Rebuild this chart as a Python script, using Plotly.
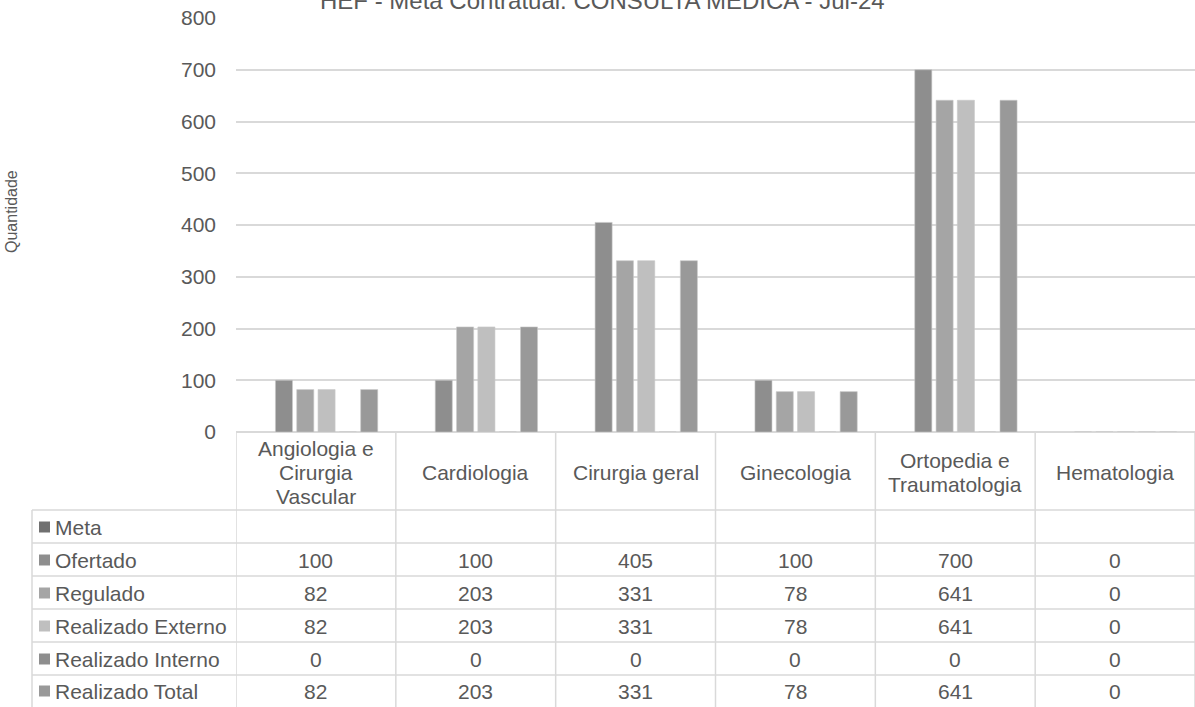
import plotly.graph_objects as go

especialidades = ["Angiologia e<br>Cirurgia<br>Vascular", "Cardiologia", "Cirurgia geral",
                  "Ginecologia", "Ortopedia e<br>Traumatologia", "Hematologia"]
series = ["Meta", "Ofertado", "Regulado", "Realizado Externo", "Realizado Interno", "Realizado Total"]
meta = [None, None, None, None, None, None]
ofertado = [100, 100, 405, 100, 700, 0]
regulado = [82, 203, 331, 78, 641, 0]
realizado_externo = [82, 203, 331, 78, 641, 0]
realizado_interno = [0, 0, 0, 0, 0, 0]
realizado_total = [82, 203, 331, 78, 641, 0]
cores = ["#707070", "#8e8e8e", "#a5a5a5", "#bfbfbf", "#8e8e8e", "#999999"]

valores = [meta, ofertado, regulado, realizado_externo, realizado_interno, realizado_total]
TXT = "#595959"
GRID = "#d9d9d9"
FONT = "Liberation Sans, Arial, sans-serif"
FS = 21

W, H = 1195, 707
ML, MR, MT, MB = 236, 0, 18, 275
plot_h = H - MT - MB
plot_w = W - ML - MR


def py(pix):  # pixel y -> paper
    return (H - MB - pix) / plot_h


def px(pix):  # pixel x -> paper
    return (pix - ML) / plot_w


xs = list(range(len(especialidades)))

fig = go.Figure()
for nome, vals, cor in zip(series, valores, cores):
    fig.add_trace(go.Bar(
        x=xs, y=vals, name=nome,
        marker=dict(color=cor, line=dict(color="#c8c8c8", width=0.6)),
        showlegend=False,
    ))

shapes = []
annotations = []

# grade da tabela
row_edges = [510, 543, 576, 609, 642, 675]
for y in row_edges:
    shapes.append(dict(type="line", xref="paper", yref="paper",
                       x0=px(32), x1=1, y0=py(y), y1=py(y),
                       line=dict(color=GRID, width=1.5)))
shapes.append(dict(type="line", xref="paper", yref="paper",
                   x0=px(32), x1=px(32), y0=py(510), y1=py(710),
                   line=dict(color=GRID, width=1.5)))
for i in range(len(especialidades) + 1):
    shapes.append(dict(type="line", xref="x", yref="paper",
                       x0=i - 0.5, x1=i - 0.5, y0=py(432), y1=py(710),
                       line=dict(color=GRID, width=1.5)))

# cabeçalho (uma anotação por linha de texto, espaçamento como no Excel)
LINE = 24
for i, esp in enumerate(especialidades):
    partes = esp.split("<br>")
    n = len(partes)
    for j, parte in enumerate(partes):
        annotations.append(dict(xref="x", yref="paper", x=i,
                                y=py(472 + (j - (n - 1) / 2) * LINE),
                                yanchor="middle", xanchor="center", text=parte,
                                showarrow=False, font=dict(size=FS, color=TXT, family=FONT)))

# linhas: marcador, nome e valores
centers = [527, 560, 593, 626, 659, 691]
for nome, vals, cor, yc in zip(series, valores, cores, centers):
    shapes.append(dict(type="rect", xref="paper", yref="paper",
                       x0=px(39), x1=px(50), y0=py(yc - 5.5), y1=py(yc + 5.5),
                       fillcolor=cor, line=dict(width=0)))
    annotations.append(dict(xref="paper", yref="paper", x=px(53), y=py(yc),
                            xanchor="left", yanchor="middle", text=nome,
                            showarrow=False, font=dict(size=FS, color=TXT, family=FONT)))
    for i, v in enumerate(vals):
        if v is None:
            continue
        annotations.append(dict(xref="x", yref="paper", x=i, y=py(yc), text=str(v),
                                xanchor="center", yanchor="middle",
                                showarrow=False, font=dict(size=FS, color=TXT, family=FONT)))

# título (cortado no topo, como no original)
annotations.append(dict(xref="paper", yref="paper", x=px(602), y=py(0),
                        xanchor="center", yanchor="middle",
                        text="HEF - Meta Contratual: CONSULTA MÉDICA - Jul-24",
                        showarrow=False, font=dict(size=24, color=TXT, family=FONT)))
# título do eixo y
annotations.append(dict(xref="paper", yref="paper", x=px(11), y=py(212), textangle=-90,
                        xanchor="center", yanchor="middle",
                        text="Quantidade", showarrow=False,
                        font=dict(size=16, color=TXT, family=FONT)))

fig.update_layout(
    width=W, height=H,
    margin=dict(l=ML, r=MR, t=MT, b=MB),
    paper_bgcolor="white", plot_bgcolor="white",
    barmode="group", bargap=0.2, bargroupgap=0.2,
    font=dict(family=FONT, color=TXT, size=FS),
    xaxis=dict(range=[-0.5, len(especialidades) - 0.5], showticklabels=False,
               showgrid=False, zeroline=False, showline=False, fixedrange=True),
    yaxis=dict(range=[0, 800], dtick=100, showgrid=True, gridcolor=GRID, gridwidth=1.5,
               zeroline=True, zerolinecolor=GRID, zerolinewidth=1.5, automargin=False,
               tickfont=dict(size=FS, color=TXT), ticklabelstandoff=19, fixedrange=True),
    shapes=shapes,
    annotations=annotations,
)

# a página tem margem padrão de 8px no body; zera para alinhar com a janela
fig.write_html("out.html", config={"displayModeBar": False},
               post_script="document.body.style.margin='0';")
